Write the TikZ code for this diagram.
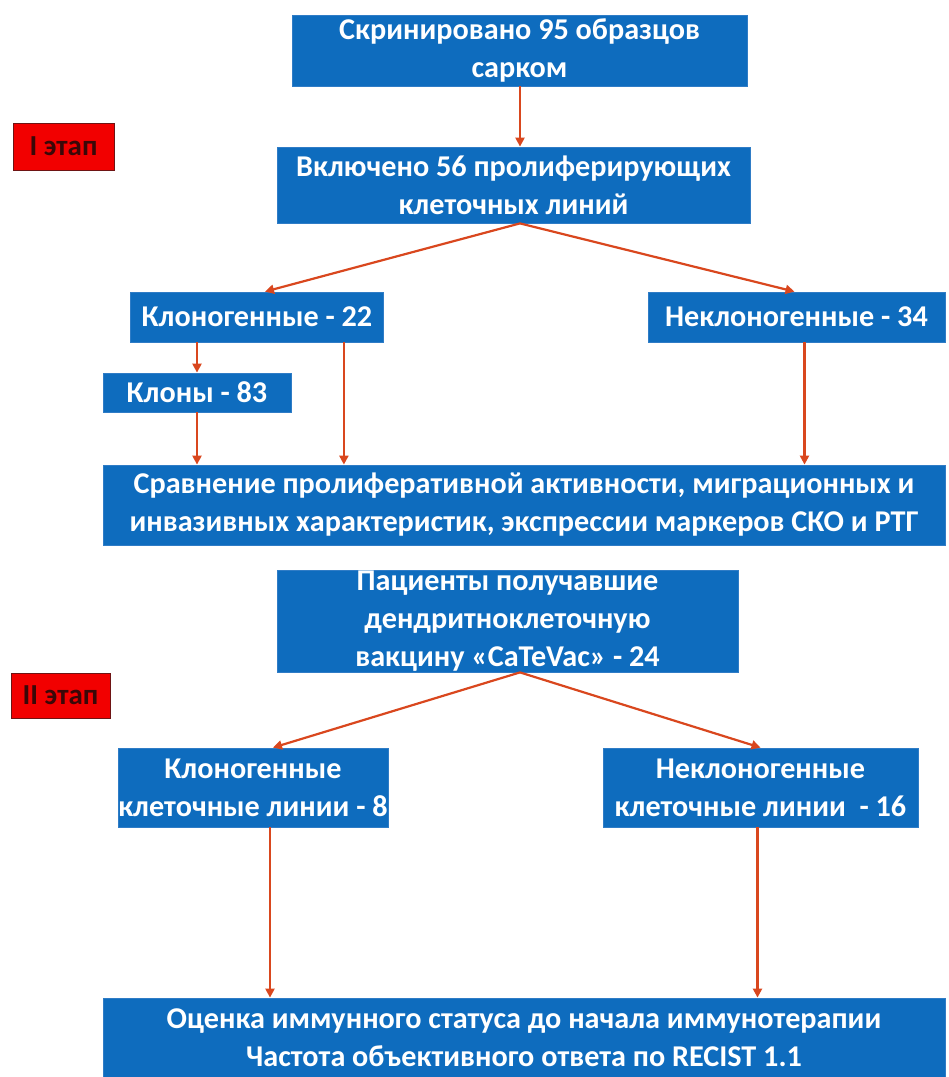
\documentclass[tikz,border=0pt]{standalone}
\usepackage{fontspec}
\setmainfont{Carlito}
\usetikzlibrary{arrows.meta}
\definecolor{boxblue}{HTML}{0E6CBE}
\definecolor{boxedge}{HTML}{2F7CC6}
\definecolor{arrred}{HTML}{D9471E}
\definecolor{labred}{HTML}{F20000}
\definecolor{labedge}{HTML}{6E1414}
\definecolor{labtext}{HTML}{3A0808}
\tikzset{
  bbox/.style={rectangle, fill=boxblue, draw=boxedge, line width=0.8pt, text=white,
    font=\bfseries\fontsize{30.2}{38}\selectfont, align=center, inner sep=0pt},
  stagebox/.style={rectangle, fill=labred, draw=labedge, line width=1pt, text=labtext,
    font=\bfseries\fontsize{29}{34}\selectfont, inner sep=0pt},
  arr/.style={draw=arrred, line width=2.2pt, -{Triangle[length=9pt,width=9pt]}}
}
\begin{document}
\begin{tikzpicture}[x=1pt,y=-1pt]
\useasboundingbox (0,0) rectangle (949,1077);
\node[bbox, minimum width=455pt, minimum height=71pt] (B1) at (519.5,50.5) {Скринировано 95 образцов\\сарком};
\node[bbox, minimum width=473pt, minimum height=76pt] (B2) at (513.5,185) {Включено 56 пролиферирующих\\клеточных линий};
\node[bbox, minimum width=253pt, minimum height=50pt] (K22) at (257,317) {Клоногенные - 22};
\node[bbox, minimum width=297pt, minimum height=50pt] (N34) at (796.5,317) {Неклоногенные - 34};
\node[bbox, minimum width=188pt, minimum height=39pt] (K83) at (197,392.5) {Клоны - 83};
\node[bbox, minimum width=842pt, minimum height=80pt] (SR) at (524,505) {Сравнение пролиферативной активности, миграционных и\\инвазивных характеристик, экспрессии маркеров СКО и РТГ};
\node[bbox, minimum width=461pt, minimum height=102pt] (PAC) at (507.5,621) {Пациенты получавшие\\дендритноклеточную\\вакцину «CaTeVac» - 24};
\node[bbox, minimum width=270pt, minimum height=79pt] (K8) at (253,787.5) {Клоногенные\\клеточные линии - 8};
\node[bbox, minimum width=315pt, minimum height=79pt] (N16) at (760.5,787.5) {Неклоногенные\\клеточные линии~~- 16};
\node[bbox, minimum width=842pt, minimum height=79pt] (BOT) at (524,1037.5) {Оценка иммунного статуса до начала иммунотерапии\\Частота объективного ответа по RECIST 1.1};
\node[stagebox, minimum width=101pt, minimum height=47pt] (E1) at (63.5,146.5) {I этап};
\node[stagebox, minimum width=99pt, minimum height=45pt] (E2) at (60.5,695.5) {II этап};
% arrows
\draw[arr] ([xshift=0.5pt]B1.south) -- ([xshift=6.5pt]B2.north);
\draw[arr] ([xshift=6.5pt]B2.south) -- ([xshift=8pt]K22.north);
\draw[arr] ([xshift=6.5pt]B2.south) -- ([xshift=-2pt]N34.north);
\draw[arr] (K83.north |- K22.south) -- (K83.north);
\draw[arr] (K83.south) -- (K83.south |- SR.north);
\draw[arr] ([xshift=-40pt]K22.south east) -- ([xshift=-40pt]K22.south east |- SR.north);
\draw[arr] ([xshift=8pt]N34.south) -- ([xshift=8pt]N34.south |- SR.north);
\draw[arr] ([xshift=12.5pt]PAC.south) -- ([xshift=20pt]K8.north);
\draw[arr] ([xshift=12.5pt]PAC.south) -- ([xshift=0pt]N16.north);
\draw[arr] ([xshift=17pt]K8.south) -- ([xshift=17pt]K8.south |- BOT.north);
\draw[arr] ([xshift=-3pt]N16.south) -- ([xshift=-3pt]N16.south |- BOT.north);
\end{tikzpicture}
\end{document}
